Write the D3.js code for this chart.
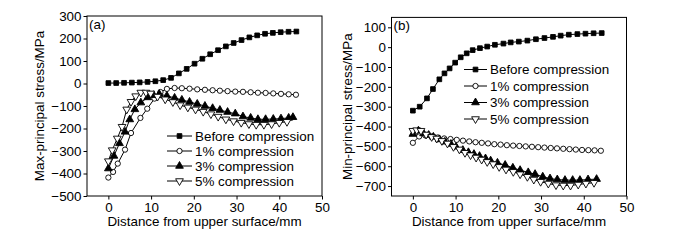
<!DOCTYPE html>
<html><head><meta charset="utf-8">
<script src="https://cdn.jsdelivr.net/npm/d3@7/dist/d3.min.js"></script>
<style>
body{margin:0;background:#fff;}
svg{display:block;font-family:"Liberation Sans",Arial,sans-serif;}
</style></head><body>
<svg id="chart" width="683" height="241"></svg>
<script>
// ---------- data ----------
const seriesNames = ["Before compression","1% compression","3% compression","5% compression"];
const xTicks = [0,10,20,30,40,50];
const yTicksA = [-500,-400,-300,-200,-100,0,100,200,300];
const yTicksB = [-700,-600,-500,-400,-300,-200,-100,0,100];

// Panel (a): max-principal stress
const aBeforeX = [0,1.83,3.67,5.5,7.33,9.17,11,12.83,14.67,16.5,18.33,20.17,22,23.83,25.67,27.5,29.33,31.17,33,34.83,36.67,38.5,40.33,42.17,44];
const aBeforeY = [2,2,3,4,5,7,10,15,25,45,65,88,110,130,148,165,180,193,205,214,221,225,228,230,231];
const a1X = [0,1.1,2.2,3.9,5.3,7.5,9.1,10.8,12.2,13.7,15.5,17.2,19,20.8,22.6,24.4,26.1,27.9,29.7,31.5,33.3,35,36.8,38.6,40.4,42.2,43.9];
const a1Y = [-418,-393,-356,-294,-220,-153,-112,-67,-38,-24,-20,-21,-23,-26,-28,-30,-32,-34,-36,-37,-39,-41,-42,-44,-46,-48,-50];
const a3X = [0,1.3,2.6,3.9,5,6.2,7.6,9.2,10.6,11.9,13.7,15.5,17.2,19,20.8,22.6,24.4,26.1,27.9,29.7,31.5,33.3,35,36.8,38.6,40.4,42.2,43.2];
const a3Y = [-378,-322,-266,-215,-160,-115,-85,-62,-52,-47,-55,-64,-73,-82,-91,-100,-110,-118,-127,-134,-147,-153,-159,-159,-158,-156,-153,-150];
const a5X = [0,0.9,2.1,3.2,4.3,5.3,6.4,7.6,8.8,9.9,11.5,13.3,15.1,16.8,18.6,20.4,22.2,24,25.7,27.5,29.3,31.1,32.9,34.6,36.4,38.2,40,41.8];
const a5Y = [-345,-296,-244,-192,-115,-81,-56,-40,-40,-44,-58,-70,-82,-96,-106,-115,-125,-136,-147,-159,-167,-174,-180,-183,-183,-180,-174,-170];

// Panel (b): min-principal stress
const bBeforeX = [0,1.6,3.3,4.7,6.2,7.4,8.6,9.9,11.2,12.6,14,15.7,17.4,19.2,21.2,22.9,24.8,26.8,28.8,30.8,32.8,34.6,36.5,38.5,40.4,42.3,44.2];
const bBeforeY = [-320,-300,-258,-211,-162,-132,-107,-78,-51,-31,-15,-5,3,12,18,24,28,33,40,46,52,58,63,66,68,70,71];
const b1X = [0,1.47,2.93,4.4,5.87,7.33,8.8,10.27,11.73,13.2,14.67,16.13,17.6,19.07,20.53,22,23.47,24.93,26.4,27.87,29.33,30.8,32.27,33.73,35.2,36.67,38.13,39.6,41.07,42.53,44];
const b1Y = [-482,-450,-445,-450,-455,-460,-463,-467,-471,-475,-479,-482,-485,-489,-491,-494,-496,-498,-500,-502,-504,-506,-508,-510,-512,-514,-516,-518,-519,-520,-522];
const b3X = [0,1.3,2.5,3.7,4.8,6.2,7.5,8.9,10.1,11.7,13,14.3,15.6,17,18.2,19.8,21.6,23.4,25.1,27,28.6,30.4,32.1,33.8,35.6,37.4,39.1,41,43];
const b3Y = [-438,-421,-435,-443,-452,-465,-477,-488,-502,-519,-530,-539,-549,-561,-572,-583,-594,-608,-620,-631,-640,-653,-662,-667,-670,-670,-670,-667,-665];
const b5X = [0,0.9,1.9,3.1,4.4,5.6,6.8,8.1,9.5,10.9,12.2,13.5,14.8,16.1,17.4,18.8,20.2,21.8,23.5,25.1,26.8,28.3,29.9,31.7,33.5,35.2,36.9,38.7,40.5,42.4];
const b5Y = [-421,-418,-421,-440,-452,-460,-472,-485,-502,-515,-532,-544,-556,-566,-578,-589,-603,-616,-628,-640,-653,-667,-678,-687,-695,-697,-697,-692,-687,-683];

// ---------- drawing ----------
const svg = d3.select("#chart");
const font = 13.4;

const sym = {
  sq: d3.symbol().type(d3.symbolSquare).size(22),
  ci: d3.symbol().type(d3.symbolCircle).size(22),
  tr: d3.symbol().type(d3.symbolTriangle).size(26)
};
const markerDefs = [
  {path: sym.sq(), fill: "#000", rot: 0},
  {path: sym.ci(), fill: "#fff", rot: 0},
  {path: sym.tr(), fill: "#000", rot: 0},
  {path: sym.tr(), fill: "#fff", rot: 180}
];

function drawMarker(g, x, y, i) {
  const m = markerDefs[i];
  g.append("path").attr("d", m.path)
    .attr("transform", `translate(${x},${y}) rotate(${m.rot})`)
    .attr("fill", m.fill).attr("stroke", "#000").attr("stroke-width", 0.9);
}

function panel(cfg) {
  const g = svg.append("g");
  const x = d3.scaleLinear().domain([-5, 50]).range([cfg.left, cfg.right]);
  const y = d3.scaleLinear().domain(cfg.yDomain).range([cfg.bottom, cfg.top]);

  g.append("rect").attr("x", cfg.left).attr("y", cfg.top)
    .attr("width", cfg.right - cfg.left).attr("height", cfg.bottom - cfg.top)
    .attr("fill", "none").attr("stroke", "#000").attr("stroke-width", 1);

  const xa = g.append("g").attr("transform", `translate(0,${cfg.bottom})`)
    .call(d3.axisBottom(x).tickValues(xTicks).tickSize(3.5).tickPadding(3).tickFormat(d3.format("d")));
  const ya = g.append("g").attr("transform", `translate(${cfg.left},0)`)
    .call(d3.axisLeft(y).tickValues(cfg.yTicks).tickSize(3.5).tickPadding(2).tickFormat(d3.format("d")));
  [xa, ya].forEach(a => {
    a.select(".domain").remove();
    a.selectAll("text").attr("font-size", font).attr("fill", "#000")
      .attr("font-family", '"Liberation Sans",Arial,sans-serif');
    a.selectAll("line").attr("stroke", "#000");
  });

  const line = d3.line().x(d => x(d[0])).y(d => y(d[1]));
  cfg.series.forEach((s, i) => {
    const pts = s.xs.map((v, k) => [v, s.ys[k]]);
    g.append("path").datum(pts).attr("d", line)
      .attr("fill", "none").attr("stroke", "#000").attr("stroke-width", 1);
    pts.forEach(p => drawMarker(g, x(p[0]), y(p[1]), i));
  });

  seriesNames.forEach((name, i) => {
    const cy = cfg.legY + i * cfg.legDy;
    g.append("line").attr("x1", cfg.legX).attr("x2", cfg.legX + cfg.legLen)
      .attr("y1", cy).attr("y2", cy).attr("stroke", "#000").attr("stroke-width", 1);
    drawMarker(g, cfg.legX + cfg.legLen / 2, cy, i);
    g.append("text").attr("x", cfg.legX + cfg.legLen + 3).attr("y", cy + 4.8)
      .attr("font-size", font).text(name);
  });

  g.append("text").attr("x", cfg.left + 2).attr("y", cfg.top + 13)
    .attr("font-size", font).text(cfg.tag);
  g.append("text").attr("x", (cfg.left + cfg.right) / 2).attr("y", 226)
    .attr("text-anchor", "middle").attr("font-size", font)
    .text("Distance from upper surface/mm");
  g.append("text")
    .attr("transform", `translate(${cfg.ylabX},${(cfg.top + cfg.bottom) / 2}) rotate(-90)`)
    .attr("text-anchor", "middle").attr("font-size", font).text(cfg.ylab);
}

panel({
  left: 87, right: 322, top: 16, bottom: 196,
  yDomain: [-500, 300], yTicks: yTicksA,
  series: [
    {xs: aBeforeX, ys: aBeforeY}, {xs: a1X, ys: a1Y},
    {xs: a3X, ys: a3Y}, {xs: a5X, ys: a5Y}
  ],
  legX: 167, legLen: 25, legY: 136, legDy: 15,
  tag: "(a)", ylab: "Max-principal stress/MPa", ylabX: 44
});

panel({
  left: 391.5, right: 626.5, top: 17.4, bottom: 196,
  yDomain: [-750, 150], yTicks: yTicksB,
  series: [
    {xs: bBeforeX, ys: bBeforeY}, {xs: b1X, ys: b1Y},
    {xs: b3X, ys: b3Y}, {xs: b5X, ys: b5Y}
  ],
  legX: 464, legLen: 23, legY: 69.5, legDy: 16.5,
  tag: "(b)", ylab: "Min-principal stress/MPa", ylabX: 352
});
</script>
</body></html>
